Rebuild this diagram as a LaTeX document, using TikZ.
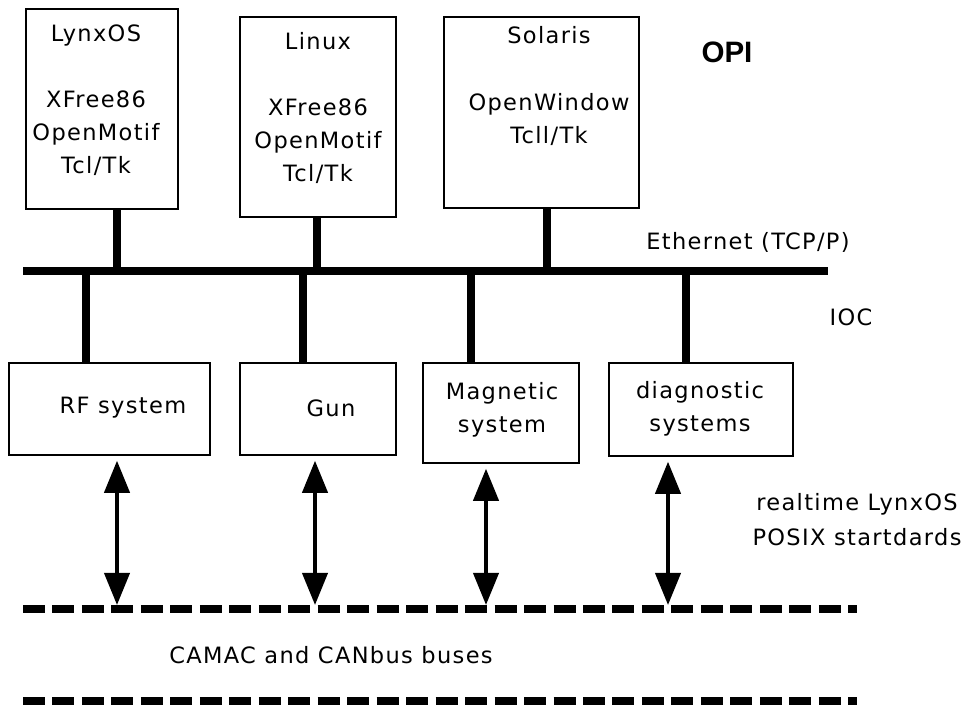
\documentclass[tikz,border=0pt]{standalone}
\usepackage{fontspec}
\usetikzlibrary{arrows.meta, positioning}

\newfontfamily\pixfont[LetterSpace=6]{DejaVu Sans}
\newfontfamily\titlefont{Liberation Sans}

\begin{document}
\begin{tikzpicture}[
    x=0.025cm, y=-0.025cm,
    hostbox/.style={
        draw,
        line width=1.1pt,
        inner sep=0pt,
    },
    boxtext/.style={
        font=\pixfont\fontsize{16}{23.5}\selectfont,
        align=center,
        inner sep=0pt,
    },
    ethernet/.style={
        line width=5.7pt,
    },
    tap/.style={
        line width=5pt,
    },
    fieldbus/.style={
        line width=5.7pt,
        dash pattern=on 15.65pt off 5.31pt,
    },
    link/.style={
        line width=2.85pt,
        >={Triangle[width=17.8pt,length=22.8pt]},
        <->,
        shorten <=3.5pt,
    },
    note/.style={
        font=\pixfont\fontsize{16}{25}\selectfont,
        align=center,
        inner sep=0pt,
    }
]
    \useasboundingbox (0,0) rectangle (964,707);

    % Operator stations
    \node[hostbox, minimum width=3.8cm, minimum height=5cm] (lynx) at (102,109) {};
    \node[hostbox, minimum width=3.9cm, minimum height=5cm] (linux) at (318,117) {};
    \node[hostbox, minimum width=4.875cm, minimum height=4.775cm] (solaris) at (541.5,112.5) {};

    % Station labels
    \node[boxtext] (lynxtext) at (96,100) {LynxOS\\[23.5pt]XFree86\\OpenMotif\\Tcl/Tk};
    \node[boxtext] (linuxtext) at (318,108) {Linux\\[23.5pt]XFree86\\OpenMotif\\Tcl/Tk};
    \node[boxtext] (solaristext) at (549,86) {Solaris\\[23.5pt]OpenWindow\\Tcll/Tk};

    % Ethernet backbone
    \coordinate (ethW) at (23,271);
    \coordinate (ethE) at (828,271);
    \draw[ethernet] (ethW) -- (ethE);

    % Taps up to the stations
    \coordinate (tapLynx) at (117,271);
    \coordinate (tapLinux) at (317,271);
    \coordinate (tapSolaris) at (547,271);
    \draw[tap] (lynx.south -| tapLynx) -- (tapLynx);
    \draw[tap] (linux.south -| tapLinux) -- (tapLinux);
    \draw[tap] (solaris.south -| tapSolaris) -- (tapSolaris);

    % IOC subsystems
    \node[hostbox, minimum width=5.025cm, minimum height=2.3cm] (rf) at (109.5,409) {};
    \node[hostbox, minimum width=3.9cm, minimum height=2.3cm] (gun) at (318,409) {};
    \node[hostbox, minimum width=3.9cm, minimum height=2.5cm] (magnet) at (501,413) {};
    \node[hostbox, minimum width=4.6cm, minimum height=2.325cm] (diag) at (701,409.5) {};

    % Subsystem labels
    \node[boxtext] (rftext) at (123,408) {RF system};
    \node[boxtext] (guntext) at (331,408) {Gun};
    \node[boxtext] (magnettext) at (502,410) {Magnetic\\system};
    \node[boxtext] (diagtext) at (700,409) {diagnostic\\systems};

    % Taps down to the subsystems
    \coordinate (tapRF) at (86,271);
    \coordinate (tapGun) at (303,271);
    \coordinate (tapMagnet) at (471,271);
    \coordinate (tapDiag) at (686,271);
    \draw[tap] (tapRF) -- (tapRF |- rf.north);
    \draw[tap] (tapGun) -- (tapGun |- gun.north);
    \draw[tap] (tapMagnet) -- (tapMagnet |- magnet.north);
    \draw[tap] (tapDiag) -- (tapDiag |- diag.north);

    % Field buses
    \coordinate (camW) at (23,609);
    \coordinate (camE) at (857,609);
    \coordinate (canW) at (23,701);
    \coordinate (canE) at (857,701);
    \draw[fieldbus] (camW) -- (camE);
    \draw[fieldbus] (canW) -- (canE);

    % Links to the field bus
    \coordinate (rfbus) at (117,605);
    \coordinate (gunbus) at (315,605);
    \coordinate (magnetbus) at (486,605);
    \coordinate (diagbus) at (668,605);
    \draw[link] (rf.south -| rfbus) -- (rfbus);
    \draw[link] (gun.south -| gunbus) -- (gunbus);
    \draw[link] (magnet.south -| magnetbus) -- (magnetbus);
    \draw[link] (diag.south -| diagbus) -- (diagbus);

    % Layer labels
    \node[font=\titlefont\bfseries\fontsize{21}{25}\selectfont, inner sep=0pt] (opi) at (727,52) {OPI};
    \node[note] (ethlabel) at (748,242) {Ethernet (TCP/P)};
    \node[note] (ioc) at (851,317) {IOC};
    \node[note] (rtos) at (857,520) {realtime LynxOS\\POSIX startdards};
    \node[note] (camac) at (331,655) {CAMAC and CANbus buses};
\end{tikzpicture}
\end{document}
